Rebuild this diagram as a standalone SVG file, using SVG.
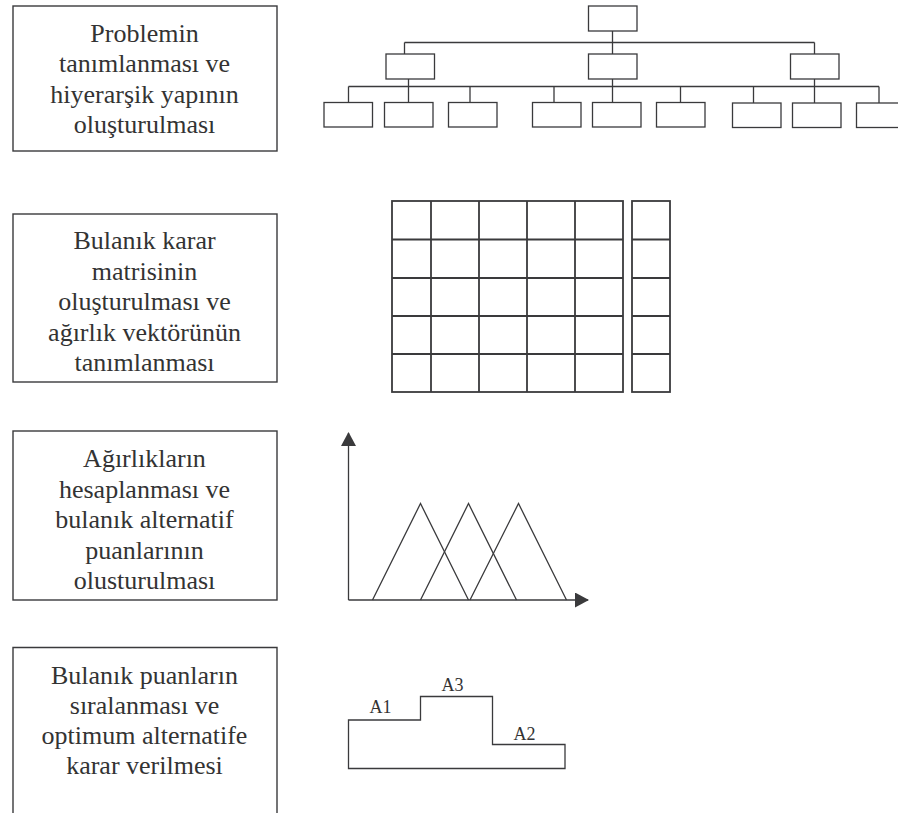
<svg xmlns="http://www.w3.org/2000/svg" width="898" height="813" viewBox="0 0 898 813">
<defs>
<style>
.box{fill:none;stroke:#3a3a3c;stroke-width:1.4}
.ln{fill:none;stroke:#3a3a3c;stroke-width:1.3}
.grid{fill:none;stroke:#3a3a3c;stroke-width:1.8}
.t{font-family:"Liberation Serif","Times New Roman",serif;font-size:26px;fill:#333;text-anchor:middle}
.lbl{font-family:"Liberation Serif","Times New Roman",serif;font-size:18px;fill:#333;text-anchor:middle}
</style>
<marker id="arr" viewBox="0 0 14 15" refX="13" refY="7.5" markerWidth="14" markerHeight="15" markerUnits="userSpaceOnUse" orient="auto">
<path d="M0,0 L14,7.5 L0,15 Z" fill="#3a3a3c"/>
</marker>
</defs>
<rect width="898" height="813" fill="#fff"/>

<g id="step1">
<rect class="box" x="13" y="6" width="264" height="145"/>
<text class="t" x="144.5" y="41.5">Problemin</text>
<text class="t" x="144.5" y="72">tanımlanması ve</text>
<text class="t" x="144.5" y="102.5">hiyerarşik yapının</text>
<text class="t" x="144.5" y="133">oluşturulması</text>
</g>

<g id="step2">
<rect class="box" x="13" y="214" width="264" height="168"/>
<text class="t" x="144.5" y="249">Bulanık karar</text>
<text class="t" x="144.5" y="279.5">matrisinin</text>
<text class="t" x="144.5" y="310">oluşturulması ve</text>
<text class="t" x="144.5" y="340.5">ağırlık vektörünün</text>
<text class="t" x="144.5" y="371">tanımlanması</text>
</g>

<g id="step3">
<rect class="box" x="13" y="431" width="264" height="169"/>
<text class="t" x="144.5" y="467">Ağırlıkların</text>
<text class="t" x="144.5" y="497.5">hesaplanması ve</text>
<text class="t" x="144.5" y="528">bulanık alternatif</text>
<text class="t" x="144.5" y="558.5">puanlarının</text>
<text class="t" x="144.5" y="589">olusturulması</text>
</g>

<g id="step4">
<path class="box" d="M13,813 V647.5 H277 V813"/>
<text class="t" x="144.5" y="683.5">Bulanık puanların</text>
<text class="t" x="144.5" y="714">sıralanması ve</text>
<text class="t" x="144.5" y="744">optimum alternatife</text>
<text class="t" x="144.5" y="774">karar verilmesi</text>
</g>

<g id="hierarchy">
<g id="h-top"><rect class="ln" x="588.5" y="6" width="48.5" height="25"/></g>
<g id="h-mid1"><rect class="ln" x="386" y="54" width="48.5" height="25"/></g>
<g id="h-mid2"><rect class="ln" x="588.5" y="54" width="48.5" height="25"/></g>
<g id="h-mid3"><rect class="ln" x="790.5" y="54" width="48.5" height="25"/></g>
<g id="h-leaf1"><rect class="ln" x="324" y="102.5" width="48.5" height="24.5"/></g>
<g id="h-leaf2"><rect class="ln" x="384.5" y="102.5" width="48.5" height="24.5"/></g>
<g id="h-leaf3"><rect class="ln" x="448.5" y="102.5" width="48.5" height="24.5"/></g>
<g id="h-leaf4"><rect class="ln" x="532.5" y="102.5" width="48.5" height="24.5"/></g>
<g id="h-leaf5"><rect class="ln" x="592.5" y="102.5" width="48.5" height="24.5"/></g>
<g id="h-leaf6"><rect class="ln" x="656.5" y="102.5" width="48.5" height="24.5"/></g>
<g id="h-leaf7"><rect class="ln" x="732.5" y="103" width="48.5" height="24.5"/></g>
<g id="h-leaf8"><rect class="ln" x="792.5" y="103" width="48.5" height="24.5"/></g>
<g id="h-leaf9"><rect class="ln" x="856.5" y="103" width="48.5" height="24.5"/></g>
</g>

<g id="connectors">
<path class="ln" d="M612.5,31 V54 M404.5,42.5 H814.5 M404.5,42.5 V54 M814.5,42.5 V54"/>
<path class="ln" d="M348.5,86.5 H879 M408.5,79 V102.5 M612.5,79 V102.5 M814.5,79 V103 M348.5,86.5 V102.5 M470,86.5 V102.5 M554,86.5 V102.5 M680.5,86.5 V102.5 M753.5,86.5 V103 M879,86.5 V103"/>
</g>

<g id="matrix">
<rect class="grid" x="392" y="201" width="231" height="191"/>
<path class="grid" d="M431,201 V392 M479,201 V392 M527,201 V392 M575,201 V392 M392,239.5 H623 M392,278 H623 M392,316 H623 M392,354 H623"/>
<rect class="grid" x="632" y="201" width="38" height="191"/>
<path class="grid" d="M632,239.5 H670 M632,278 H670 M632,316 H670 M632,354 H670"/>
</g>

<g id="fuzzy-chart">
<path class="ln" d="M348.5,600 V433" marker-end="url(#arr)"/>
<path class="ln" d="M348.5,600 H588" marker-end="url(#arr)"/>
<path class="ln" d="M372.5,600 L420.5,503.5 L468.5,600"/>
<path class="ln" d="M420.5,600 L468.5,503.5 L516.5,600"/>
<path class="ln" d="M470,600 L518.5,503.5 L566.5,600"/>
</g>

<g id="ranking">
<path class="ln" d="M348.5,768.5 V720 H420.5 V696.5 H492.5 V744.5 H565 V768.5 Z"/>
<text class="lbl" x="380.5" y="712.5">A1</text>
<text class="lbl" x="452.5" y="690.5">A3</text>
<text class="lbl" x="524.5" y="740">A2</text>
</g>
</svg>
